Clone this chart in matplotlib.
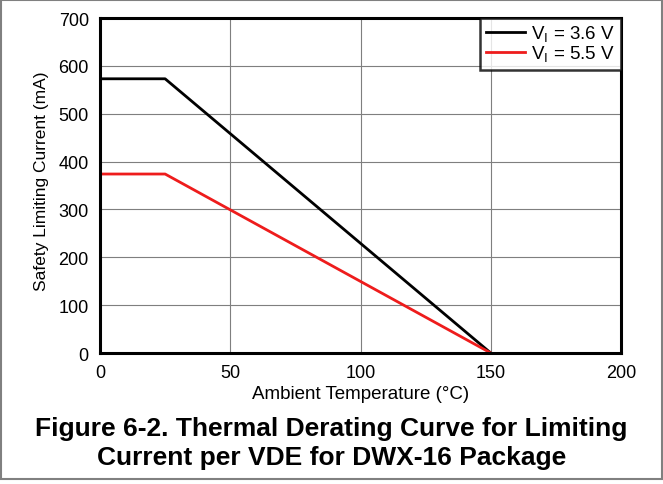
import matplotlib
matplotlib.use("Agg")
import matplotlib.pyplot as plt
from matplotlib.patches import Rectangle

plt.rcParams['font.family'] = ['Liberation Sans', 'DejaVu Sans']

temp = [0, 25, 150]
current_36 = [573, 573, 0]
current_55 = [374, 374, 0]
labels = [r'V$_\mathregular{I}$ = 3.6 V', r'V$_\mathregular{I}$ = 5.5 V']

fig = plt.figure(figsize=(6.63, 4.85), dpi=100)
ax = fig.add_axes([0.1508, 0.2701, 0.9367 - 0.1508, 0.9608 - 0.2701])

ax.plot(temp, current_36, color='black', lw=2, label=labels[0])
ax.plot(temp, current_55, color='#ee1c1c', lw=2, label=labels[1])

ax.set_xlim(0, 200)
ax.set_ylim(0, 700)
ax.set_xticks([0, 50, 100, 150, 200])
ax.set_yticks(range(0, 701, 100))
ax.grid(True, color='#7f7f7f', lw=0.8)
ax.set_axisbelow(True)
for s in ax.spines.values():
    s.set_linewidth(2.2)
ax.tick_params(length=0, labelsize=13, pad=8)
ax.set_xlabel('Ambient Temperature (°C)', fontsize=13.5, labelpad=3)
ax.set_ylabel('Safety Limiting Current (mA)', fontsize=12.5, labelpad=6.5)
ax.yaxis.label.set_y(0.515)

leg = ax.legend(loc='upper right', fontsize=13.5, frameon=True, fancybox=False,
                edgecolor='black', borderaxespad=0, handlelength=2.1,
                labelspacing=0.0, borderpad=0.3, handletextpad=0.35)
leg.get_frame().set_linewidth(1.8)

fig.text(0.5, 0.086, 'Figure 6-2. Thermal Derating Curve for Limiting\nCurrent per VDE for DWX-16 Package',
         ha='center', va='center', fontsize=19, fontweight='bold', linespacing=1.25)

fig.patches.append(Rectangle((0.0015, 0.01), 0.9965, 0.988, transform=fig.transFigure,
                             fill=False, edgecolor='#808080', lw=1.5))

fig.savefig('out.png', dpi=100)
